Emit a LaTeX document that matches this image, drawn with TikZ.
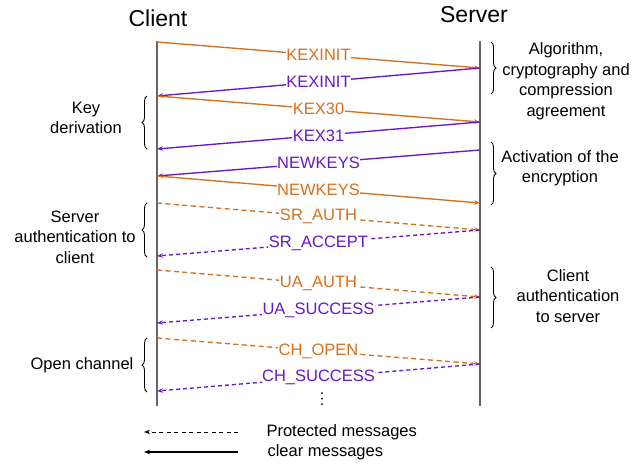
\documentclass[tikz,border=0pt]{standalone}
\usepackage{fontspec}
\setmainfont{Liberation Sans}
\usetikzlibrary{arrows.meta,decorations.pathreplacing}
\definecolor{org}{RGB}{214,112,30}
\definecolor{pur}{RGB}{104,24,200}
\begin{document}
\begin{tikzpicture}[x=1pt,y=-1pt,
  life/.style={draw=black!60, line width=1.4pt},
  msg/.style={line width=1.35pt, -{Stealth[length=6pt,width=4.5pt]}},
  omsg/.style={msg, draw=org},
  pmsg/.style={msg, draw=pur},
  oprot/.style={dash pattern=on 5pt off 3.5pt},
  pprot/.style={dash pattern=on 4pt off 3pt},
  lbl/.style={fill=white, inner sep=0.6pt, font=\fontsize{16.5}{20}\selectfont},
  olbl/.style={lbl, text=org},
  plbl/.style={lbl, text=pur},
  bracestyle/.style={decorate, decoration={brace, amplitude=5pt}, line width=0.9pt},
  note/.style={align=center, font=\fontsize{16.5}{20.5}\selectfont},
  head/.style={font=\fontsize{23}{26}\selectfont},
  dotmark/.style={fill=black, draw=none}]
\useasboundingbox (0,0) rectangle (642,463);

% headers
\node[head] (client) at (158,18) {Client};
\node[head] (server) at (474,15) {Server};

% lifelines
\coordinate (ctop) at (157,41);
\coordinate (cbot) at (157,406);
\coordinate (stop) at (480,41);
\coordinate (sbot) at (480,406);
\draw[life] (ctop) -- (cbot);
\draw[life] (stop) -- (sbot);

% lifeline points
\foreach \n/\y in {1/42,2/68,3/96,4/122,5/149,6/150,7/176,8/203,9/230,10/256,11/270,12/297,13/323,14/338,15/364,16/391}{
  \coordinate (c\n) at (157,\y);
  \coordinate (s\n) at (480,\y);
}

% messages
\draw[omsg] (c1) -- node[olbl]{KEXINIT} (s2);
\draw[pmsg] (s2) -- node[plbl]{KEXINIT} (c3);
\draw[omsg] (c3) -- node[olbl]{KEX30} (s4);
\draw[pmsg] (s4) -- node[plbl]{KEX31} (c5);
\draw[pmsg] (s6) -- node[plbl]{NEWKEYS} (c7);
\draw[omsg] (c7) -- node[olbl]{NEWKEYS} (s8);
\draw[omsg,oprot] (c8) -- node[olbl]{SR\_AUTH} (s9);
\draw[pmsg,pprot] (s9) -- node[plbl]{SR\_ACCEPT} (c10);
\draw[omsg,oprot] (c11) -- node[olbl]{UA\_AUTH} (s12);
\draw[pmsg,pprot] (s12) -- node[plbl]{UA\_SUCCESS} (c13);
\draw[omsg,oprot] (c14) -- node[olbl]{CH\_OPEN} (s15);
\draw[pmsg,pprot] (s15) -- node[plbl]{CH\_SUCCESS} (c16);
\foreach \y in {393,398.5,404}{
  \fill[dotmark] (322,\y) circle (1pt);
}

% left braces
\coordinate (lb1a) at (147,149); \coordinate (lb1b) at (147,96);
\coordinate (lb2a) at (147,257); \coordinate (lb2b) at (147,203);
\coordinate (lb3a) at (147,392); \coordinate (lb3b) at (147,338);
\draw[bracestyle] (lb1a) -- (lb1b);
\draw[bracestyle] (lb2a) -- (lb2b);
\draw[bracestyle] (lb3a) -- (lb3b);
\node[note] (kd) at (86,118) {Key\\derivation};
\node[note] (sa) at (75,237) {Server\\authentication to\\client};
\node[note] (oc) at (82,365) {Open channel};

% right braces
\coordinate (rb1a) at (491,42); \coordinate (rb1b) at (491,94);
\coordinate (rb2a) at (491,142); \coordinate (rb2b) at (491,205);
\coordinate (rb3a) at (491,267); \coordinate (rb3b) at (491,328);
\draw[bracestyle] (rb1a) -- (rb1b);
\draw[bracestyle] (rb2a) -- (rb2b);
\draw[bracestyle] (rb3a) -- (rb3b);
\node[note] (alg) at (566,81) {Algorithm,\\cryptography and\\compression\\agreement};
\node[note] (act) at (560,168) {Activation of the\\encryption};
\node[note] (cas) at (568,296) {Client\\authentication\\to server};

% legend
\coordinate (l1a) at (238,432); \coordinate (l1b) at (144,432);
\coordinate (l2a) at (238,452); \coordinate (l2b) at (144,452);
\draw[msg, draw=black, line width=1pt, dash pattern=on 4pt off 3.5pt] (l1a) -- (l1b);
\draw[msg, draw=black, line width=1.3pt] (l2a) -- (l2b);
\node[note, anchor=west] (prot) at (263,432) {Protected messages};
\node[note, anchor=west] (clear) at (264,452) {clear messages};
\end{tikzpicture}
\end{document}
